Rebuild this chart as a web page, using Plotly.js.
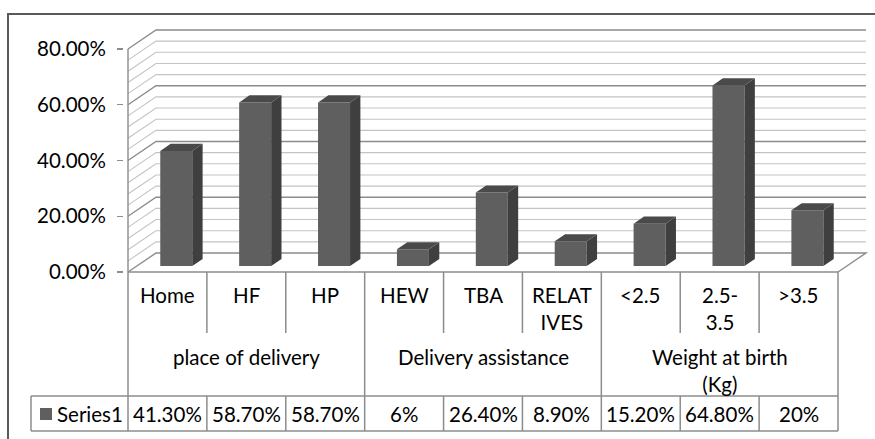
<!DOCTYPE html>
<html>
<head>
<meta charset="utf-8">
<script src="https://cdn.plot.ly/plotly-3.0.1.min.js"></script>
<style>html,body{margin:0;padding:0;background:#fff;}#chart{width:875px;height:439px;}</style>
</head>
<body>
<div id="chart"></div>
<script>
// ---- data ----
const categoryLabels = ['Home', 'HF', 'HP', 'HEW', 'TBA', 'RELAT<br>IVES', '&lt;2.5', '2.5-<br>3.5', '&gt;3.5'];
const values = [41.3, 58.7, 58.7, 6, 26.4, 8.9, 15.2, 64.8, 20];
const valueLabels = ['41.30%', '58.70%', '58.70%', '6%', '26.40%', '8.90%', '15.20%', '64.80%', '20%'];
const groupLabels = ['place of delivery', 'Delivery assistance', 'Weight at birth<br>(Kg)'];
const groupStart = [0, 3, 6];
const groupEnd = [2, 5, 8];
const seriesName = 'Series1';
const yTickVals = [0, 20, 40, 60, 80];
const yTickText = ['0.00%', '20.00%', '40.00%', '60.00%', '80.00%'];

// ---- geometry (styling) ----
const W = 875, H = 439;
const M = {l: 124, r: 6, t: 28, b: 165};
const pxPerX = 710 / 9;           // column width in px
const pxPerY = 223 / 80;          // px per percent
const plotW = W - M.l - M.r, plotH = H - M.t - M.b;
const x0 = -0.5 - (128 - M.l) / pxPerX;
const xr = [x0, x0 + plotW / pxPerX];
const y0 = -((H - M.b) - 272) / pxPerY;
const yr = [y0, y0 + plotH / pxPerY];
const DX = 28 / pxPerX;           // depth offset in x units
const DY = 19 / pxPerY;           // depth offset in y units
const F1 = 0.315, F2 = 0.685;     // bar depth fraction
const BW = 32 / pxPerX;           // bar width
const n = values.length;

const FONT = 'Lato, "Open Sans", sans-serif';
const FS = 20.5;
const TXT = '#000000';
const LINE = '#8c8c8c';

function py(p) { return ((H - M.b) - p) / plotH; }   // pixel y -> paper
function px(p) { return (p - M.l) / plotW; }          // pixel x -> paper

const shapes = [];
// back wall & side wall gridlines
for (let v = 0; v <= 80; v += 4) {
  const major = v % 20 === 0;
  let path = `M ${-0.5} ${v} L ${-0.5 + DX} ${v + DY} L ${n - 0.5 + DX} ${v + DY}`;
  if (v === 0) path += ` L ${n - 0.5} 0`;
  shapes.push({type: 'path', xref: 'x', yref: 'y', layer: 'below', path: path,
    line: {color: major ? LINE : '#c4c4c4', width: major ? 1.4 : 1.1}});
}
// front vertical axis line
shapes.push({type: 'line', xref: 'x', yref: 'y', layer: 'below', x0: -0.5, x1: -0.5, y0: 0, y1: 80,
  line: {color: LINE, width: 1.4}});

// ---- table ----
const tl = {color: LINE, width: 1.5};
const yTop = 272, yCat = 333, yGrp = 396, yBot = 431;
shapes.push({type: 'line', xref: 'x', yref: 'paper', x0: -0.5, x1: n - 0.5, y0: py(yTop), y1: py(yTop), line: tl});
for (let i = 0; i <= n; i++) {
  const xb = i - 0.5;
  const isGroup = groupStart.includes(i) || i === n;
  shapes.push({type: 'line', xref: 'x', yref: 'paper', x0: xb, x1: xb,
    y0: py(yTop), y1: py(isGroup ? yBot : yCat), line: tl});
  if (!isGroup) {
    shapes.push({type: 'line', xref: 'x', yref: 'paper', x0: xb, x1: xb, y0: py(yGrp), y1: py(yBot), line: tl});
  }
}
// series row
shapes.push({type: 'line', xref: 'paper', yref: 'paper', x0: px(31), x1: px(128), y0: py(yGrp), y1: py(yGrp), line: tl});
shapes.push({type: 'line', xref: 'paper', yref: 'paper', x0: px(31), x1: px(128), y0: py(yBot), y1: py(yBot), line: tl});
shapes.push({type: 'line', xref: 'paper', yref: 'paper', x0: px(31), x1: px(31), y0: py(yGrp), y1: py(yBot), line: tl});
shapes.push({type: 'line', xref: 'x', yref: 'paper', x0: -0.5, x1: n - 0.5, y0: py(yGrp), y1: py(yGrp), line: tl});
shapes.push({type: 'line', xref: 'x', yref: 'paper', x0: -0.5, x1: n - 0.5, y0: py(yBot), y1: py(yBot), line: tl});
// legend key
shapes.push({type: 'rect', xref: 'paper', yref: 'paper', x0: px(40), x1: px(52), y0: py(420), y1: py(408),
  fillcolor: '#5f5f5f', line: {width: 0}});
// outer frame
shapes.push({type: 'rect', xref: 'paper', yref: 'paper', x0: px(8), x1: px(890), y0: py(14), y1: py(460),
  line: {color: '#595959', width: 2}, fillcolor: 'rgba(0,0,0,0)'});

const annotations = [];
for (let i = 0; i < n; i++) {
  annotations.push({xref: 'x', yref: 'paper', x: i, y: py(281), yanchor: 'top', xanchor: 'center',
    text: categoryLabels[i], showarrow: false, font: {family: FONT, size: FS, color: TXT}});
  annotations.push({xref: 'x', yref: 'paper', x: i, y: py(414), yanchor: 'middle', xanchor: 'center',
    text: valueLabels[i], showarrow: false, font: {family: FONT, size: FS, color: TXT}});
}
for (let g = 0; g < groupLabels.length; g++) {
  annotations.push({xref: 'x', yref: 'paper', x: (groupStart[g] + groupEnd[g]) / 2, y: py(343), yanchor: 'top',
    xanchor: 'center', text: groupLabels[g], showarrow: false, font: {family: FONT, size: FS, color: TXT}});
}
annotations.push({xref: 'paper', yref: 'paper', x: px(55), y: py(414), xanchor: 'left', yanchor: 'middle',
  text: seriesName, showarrow: false, font: {family: FONT, size: FS, color: TXT}});

// ---- traces ----
const traces = [];
// front faces
traces.push({type: 'bar', x: values.map((v, i) => i + F1 * DX), y: values, base: values.map(() => F1 * DY),
  width: BW, marker: {color: '#5f5f5f', line: {width: 0}}, hoverinfo: 'skip', showlegend: false});
// side & top faces
const dxb = (F2 - F1) * DX, dyb = (F2 - F1) * DY;
values.forEach((v, i) => {
  const xl = i + F1 * DX - BW / 2, xrr = i + F1 * DX + BW / 2;
  const b = F1 * DY, t = b + v;
  traces.push({type: 'scatter', mode: 'lines', fill: 'toself', fillcolor: '#3f3f3f',
    x: [xrr, xrr, xrr + dxb, xrr + dxb, xrr], y: [b, t, t + dyb, b + dyb, b],
    line: {width: 0, color: '#3f3f3f'}, hoverinfo: 'skip', showlegend: false});
  traces.push({type: 'scatter', mode: 'lines', fill: 'toself', fillcolor: '#4a4a4a',
    x: [xl, xrr, xrr + dxb, xl + dxb, xl], y: [t, t, t + dyb, t + dyb, t],
    line: {width: 0, color: '#4a4a4a'}, hoverinfo: 'skip', showlegend: false});
});

const layout = {
  width: W, height: H,
  margin: M,
  paper_bgcolor: '#ffffff', plot_bgcolor: 'rgba(0,0,0,0)',
  showlegend: false,
  xaxis: {type: 'linear', range: xr, showgrid: false, zeroline: false, showticklabels: false, ticks: '', showline: false, fixedrange: true},
  yaxis: {range: yr, showgrid: false, zeroline: false, showline: false, tickmode: 'array', tickvals: yTickVals, ticktext: yTickText,
    ticks: 'outside', ticklen: 6, tickcolor: LINE, tickwidth: 1.4, ticklabelstandoff: 7,
    tickfont: {family: FONT, size: FS, color: TXT}, fixedrange: true},
  shapes: shapes,
  annotations: annotations
};

Plotly.newPlot('chart', traces, layout, {displayModeBar: false, staticPlot: true});
</script>
</body>
</html>
